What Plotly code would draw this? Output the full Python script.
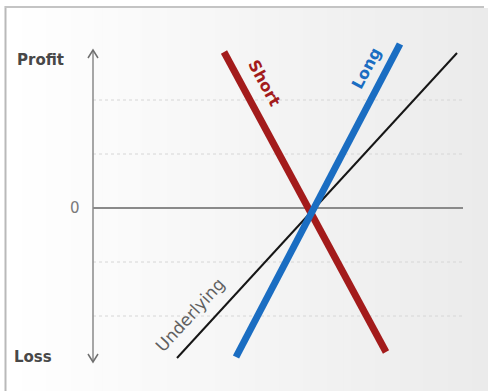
import plotly.graph_objects as go

# Payoff lines: underlying price (x) vs profit/loss (y), crossing at the strike (0, 0)
short_x = [-89, 73]
short_y = [156, -144]
long_x = [-77, 87]
long_y = [-149, 164]
under_x = [-136, 144]
under_y = [-150, 155]

grid_levels = [-108, -54, 54, 108]
zero_level = 0

X_RANGE = [-313, 175]
Y_RANGE = [-183, 208]
AXIS_X = -220
AXIS_TOP = 158
AXIS_BOTTOM = -154
ZERO_END = 150

W, H = 488, 391
FONT = "DejaVu Sans"

fig = go.Figure()

fig.add_trace(go.Scatter(x=under_x, y=under_y, mode="lines",
                         line=dict(color="#161616", width=2), hoverinfo="skip"))
fig.add_trace(go.Scatter(x=short_x, y=short_y, mode="lines",
                         line=dict(color="#a31b1b", width=7), hoverinfo="skip"))
fig.add_trace(go.Scatter(x=long_x, y=long_y, mode="lines",
                         line=dict(color="#1a6dc2", width=7), hoverinfo="skip"))

shapes = []

# soft left-to-right background gradient inside the frame
n = 60
x0p, x1p = 6 / W, 1.0
for i in range(n):
    t = i / (n - 1)
    g = int(round(255 - 20 * t))
    shapes.append(dict(type="rect", xref="paper", yref="paper",
                       x0=x0p + (x1p - x0p) * i / n, x1=x0p + (x1p - x0p) * (i + 1) / n + 0.002,
                       y0=0, y1=1 - 8 / H, line=dict(width=0),
                       fillcolor=f"rgb({g},{g},{g})", layer="below"))

# frame on the left and top
shapes.append(dict(type="line", xref="paper", yref="paper", x0=5.5 / W, x1=5.5 / W,
                   y0=0, y1=1 - 6 / H, line=dict(color="#b9b9b9", width=2), layer="below"))
shapes.append(dict(type="line", xref="paper", yref="paper", x0=5 / W, x1=484 / W,
                   y0=1 - 7 / H, y1=1 - 7 / H, line=dict(color="#c4c4c4", width=2), layer="below"))

# light gridlines
for lv in grid_levels:
    shapes.append(dict(type="line", x0=AXIS_X, x1=ZERO_END, y0=lv, y1=lv,
                       line=dict(color="#d6d6d6", width=1, dash="dot"), layer="below"))
# zero line
shapes.append(dict(type="line", x0=AXIS_X, x1=ZERO_END, y0=zero_level, y1=zero_level,
                   line=dict(color="#8a8a8a", width=2), layer="below"))
# vertical profit/loss axis with arrow heads
shapes.append(dict(type="line", x0=AXIS_X, x1=AXIS_X, y0=AXIS_BOTTOM, y1=AXIS_TOP,
                   line=dict(color="#8a8a8a", width=1.5), layer="below"))
aw, ah = 5, 8
shapes.append(dict(type="path",
                   path=f"M {AXIS_X-aw},{AXIS_TOP-ah} L {AXIS_X},{AXIS_TOP} L {AXIS_X+aw},{AXIS_TOP-ah}",
                   line=dict(color="#6f6f6f", width=1.5), layer="below"))
shapes.append(dict(type="path",
                   path=f"M {AXIS_X-aw},{AXIS_BOTTOM+ah} L {AXIS_X},{AXIS_BOTTOM} L {AXIS_X+aw},{AXIS_BOTTOM+ah}",
                   line=dict(color="#6f6f6f", width=1.5), layer="below"))

annotations = [
    dict(x=-273, y=148, text="Profit", showarrow=False,
         font=dict(family=FONT, size=15, color="#484848", weight=700)),
    dict(x=-238, y=0, text="0", showarrow=False,
         font=dict(family=FONT, size=15, color="#7a7a7a")),
    dict(x=-280, y=-149, text="Loss", showarrow=False,
         font=dict(family=FONT, size=15, color="#484848", weight=700)),
    dict(x=-48, y=125, text="Short", showarrow=False, textangle=61.6,
         font=dict(family=FONT, size=16, color="#a31b1b", weight=700)),
    dict(x=53, y=140, text="Long", showarrow=False, textangle=-62.3,
         font=dict(family=FONT, size=16, color="#1a6dc2", weight=700)),
    dict(x=-123, y=-107, text="Underlying", showarrow=False, textangle=-47.4,
         font=dict(family=FONT, size=17, color="#606060")),
]

fig.update_layout(
    width=W, height=H,
    margin=dict(l=0, r=0, t=0, b=0),
    paper_bgcolor="white", plot_bgcolor="rgba(0,0,0,0)",
    showlegend=False,
    xaxis=dict(range=X_RANGE, visible=False, fixedrange=True),
    yaxis=dict(range=Y_RANGE, visible=False, fixedrange=True),
    shapes=shapes, annotations=annotations,
)

fig.write_html("out.html")
